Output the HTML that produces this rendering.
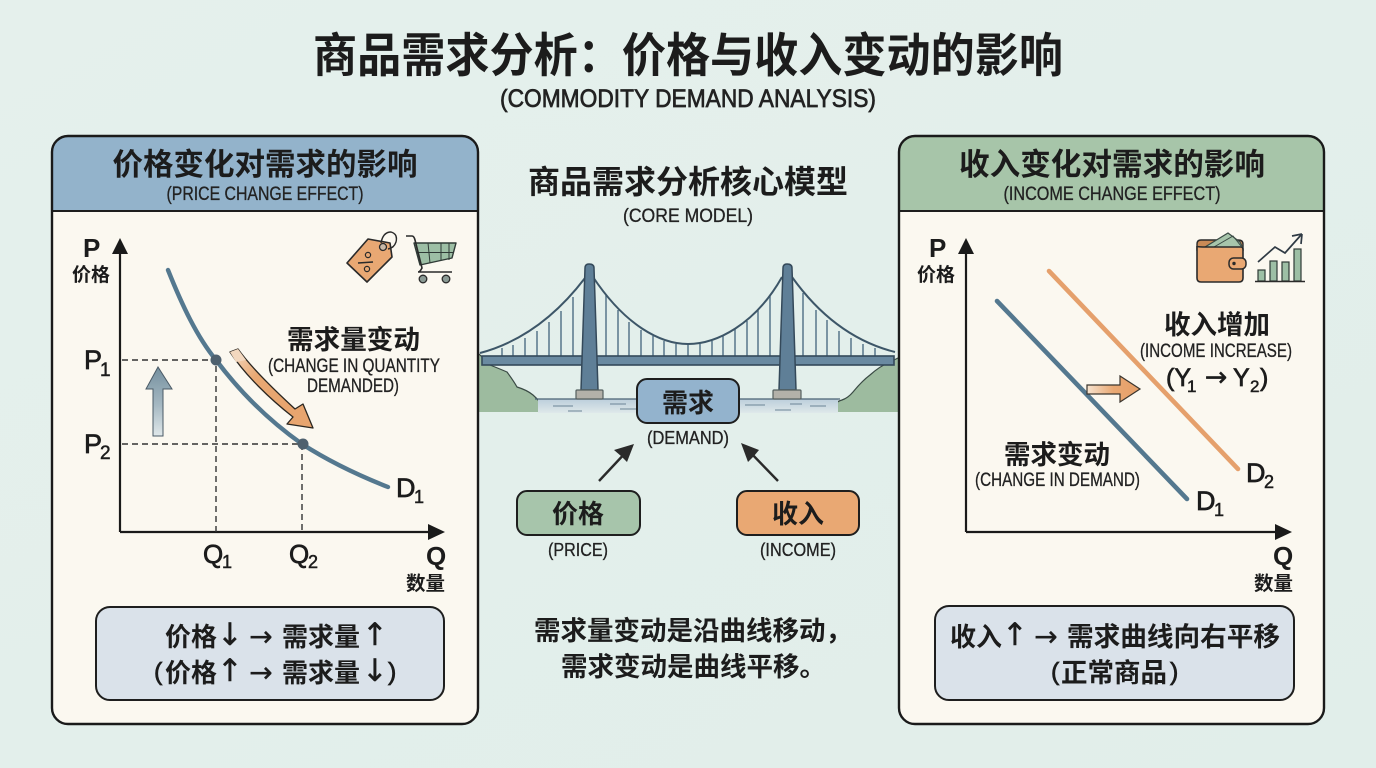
<!DOCTYPE html>
<html lang="zh-CN"><head><meta charset="utf-8"><title>商品需求分析</title>
<style>
html,body{margin:0;padding:0;width:1376px;height:768px;overflow:hidden;background:#e3efeb}
svg{display:block}
text{font-family:"Liberation Sans","Noto Sans CJK SC",sans-serif;fill:#1c1c1c}
.c{font-family:"Liberation Sans","Noto Sans CJK SC",sans-serif;font-weight:700}
.e{font-family:"Liberation Sans","Noto Sans CJK SC",sans-serif;font-weight:400;fill:#222;stroke:#222;stroke-width:.3}
.b{font-family:"Liberation Sans",sans-serif;font-weight:700}
.l{font-family:"Liberation Sans",sans-serif;font-weight:400;stroke:#1c1c1c;stroke-width:.7}
.a{font-family:"DejaVu Sans",sans-serif;font-weight:400;text-anchor:middle;stroke:#1c1c1c;stroke-width:.4}
.m{text-anchor:middle}
</style></head><body>
<svg width="1376" height="768" viewBox="0 0 1376 768" xmlns="http://www.w3.org/2000/svg">
<defs>
<linearGradient id="bg" x1="0" y1="0" x2="1" y2="1"><stop offset="0" stop-color="#e5f0ec"/><stop offset="1" stop-color="#e1eeea"/></linearGradient>
<linearGradient id="oa" gradientUnits="userSpaceOnUse" x1="232" y1="352" x2="285" y2="405"><stop offset="0" stop-color="#f3d8bf"/><stop offset=".45" stop-color="#e9a873"/><stop offset="1" stop-color="#e8a56f"/></linearGradient>
<linearGradient id="ua" x1="0" y1="0" x2="0" y2="1"><stop offset="0" stop-color="#75909f"/><stop offset=".55" stop-color="#a5b8c2"/><stop offset="1" stop-color="#e0e8ea"/></linearGradient>
<linearGradient id="ra" x1="0" y1="0" x2="1" y2="0"><stop offset="0" stop-color="#f6e3cf"/><stop offset=".5" stop-color="#e9a873"/><stop offset="1" stop-color="#e69f68"/></linearGradient>
<linearGradient id="wa" x1="0" y1="0" x2="0" y2="1"><stop offset="0" stop-color="#bccedb"/><stop offset="1" stop-color="#dfe9ea"/></linearGradient>
</defs>
<rect width="1376" height="768" fill="url(#bg)"/>

<!-- title -->
<text class="c m" x="688" y="72" font-size="47" textLength="750" lengthAdjust="spacingAndGlyphs">商品需求分析：价格与收入变动的影响</text>
<text class="e m" x="688" y="107" font-size="25" textLength="376" lengthAdjust="spacingAndGlyphs" style="stroke-width:.7">(COMMODITY DEMAND ANALYSIS)</text>

<!-- center heading -->
<text class="c m" x="688" y="193" font-size="32" textLength="320" lengthAdjust="spacingAndGlyphs">商品需求分析核心模型</text>
<text class="e m" x="688" y="222" font-size="19" textLength="130" lengthAdjust="spacingAndGlyphs">(CORE MODEL)</text>

<!-- bridge -->
<path d="M478 353 L490 365 Q500 369 507 372 Q513 380 517 387 Q527 390 533 395 Q541 402 547 412 L478 412Z" fill="#9dbb9f"/>
<path d="M478 353 L490 365 Q500 369 507 372 Q513 380 517 387 Q527 390 533 395 Q541 402 547 412" fill="none" stroke="#3a4a44" stroke-width="1.2"/>
<path d="M830 412 Q834 402 842 400 Q848 398 853 392 Q862 381 870 375 Q880 366 890 362 L900 357 L900 412Z" fill="#9dbb9f"/>
<path d="M830 412 Q834 402 842 400 Q848 398 853 392 Q862 381 870 375 Q880 366 890 362 L900 357" fill="none" stroke="#3a4a44" stroke-width="1.2"/>
<rect x="538" y="399" width="300" height="14" fill="url(#wa)"/>
<path d="M535 399H840" stroke="#4a6273" stroke-width="1.3"/>
<path d="M553 406h20M568 411h14M610 404h16M620 409h18M745 405h20M775 410h16M810 406h16M790 404h12" stroke="#6b8496" stroke-width="1" fill="none"/>
<g stroke="#4d6d84" stroke-width="1.4" fill="none">
<path d="M502 348V356M513 345V356M525 338V356M537 331V356M549 322V356M561 311V356M573 297V356"/>
<path d="M606 295V356M618 310V356M629 322V356M641 330V356M653 336V356M664 341V356M676 344V356M688 344V356M700 344V356M712 341V356M723 336V356M735 329V356M747 321V356M758 310V356M770 296V356"/>
<path d="M803 293V356M816 310V356M827 320V356M839 331V356M851 338V356M863 344V356M875 348V356"/>
</g>
<g stroke="#3d5668" stroke-width="2" fill="none">
<path d="M480 353 Q540 337 585 278"/>
<path d="M593 277 C625 325 660 344 688 344 C716 344 755 325 782 277"/>
<path d="M792 277 Q835 337 895 352"/>
</g>
<rect x="482" y="356" width="412" height="9" fill="#6a8aa1" stroke="#34495a" stroke-width="1.6"/>
<g fill="#5f7f97" stroke="#34495a" stroke-width="1.5">
<path d="M585 268 Q585 264 589 264 Q594 264 594 268 L598 390 H581Z"/>
<path d="M783 268 Q783 264 787 264 Q792 264 792 268 L796 390 H779Z"/>
</g>
<rect x="576" y="390" width="27" height="9" rx="1" fill="#b3b1a9" stroke="#55605f" stroke-width="1.2"/>
<rect x="773" y="390" width="28" height="9" rx="1" fill="#b3b1a9" stroke="#55605f" stroke-width="1.2"/>

<!-- center boxes -->
<rect x="637" y="379" width="102" height="44" rx="10" fill="#93b3cd" stroke="#1e1e1e" stroke-width="2"/>
<text class="c m" x="688" y="412" font-size="26">需求</text>
<text class="e m" x="688" y="444" font-size="18" textLength="82" lengthAdjust="spacingAndGlyphs">(DEMAND)</text>
<path d="M599 481 L628 450" stroke="#2a2a2a" stroke-width="2.4"/>
<path d="M634 444 L627 462 L621 456 L614 450Z" fill="#2a2a2a"/>
<path d="M778 481 L748 450" stroke="#2a2a2a" stroke-width="2.4"/>
<path d="M741 443 L759 450 L754 456 L748 462Z" fill="#2a2a2a"/>
<rect x="517" y="491" width="123" height="44" rx="10" fill="#a7c5ab" stroke="#1e1e1e" stroke-width="2"/>
<text class="c m" x="578" y="523" font-size="26">价格</text>
<text class="e m" x="578" y="556" font-size="18" textLength="60" lengthAdjust="spacingAndGlyphs">(PRICE)</text>
<rect x="737" y="491" width="122" height="44" rx="10" fill="#e9a873" stroke="#1e1e1e" stroke-width="2"/>
<text class="c m" x="798" y="523" font-size="26">收入</text>
<text class="e m" x="798" y="556" font-size="18" textLength="76" lengthAdjust="spacingAndGlyphs">(INCOME)</text>
<text class="c" x="534" y="640" font-size="26.5">需求量变动是沿曲线移动，</text>
<text class="c" x="561" y="676" font-size="26.5">需求变动是曲线平移。</text>

<!-- LEFT PANEL -->
<rect x="52" y="136" width="426" height="588" rx="16" fill="#fbf8f0"/>
<path d="M52 211V152a16 16 0 0 1 16-16H462a16 16 0 0 1 16 16V211Z" fill="#93b3cb"/>
<path d="M52 211H478" stroke="#1e1e1e" stroke-width="2"/>
<rect x="52" y="136" width="426" height="588" rx="16" fill="none" stroke="#1a1a1a" stroke-width="2.4"/>
<text class="c m" x="265" y="175" font-size="30.5" textLength="305" lengthAdjust="spacingAndGlyphs">价格变化对需求的影响</text>
<text class="e m" x="265" y="200" font-size="19" textLength="197" lengthAdjust="spacingAndGlyphs">(PRICE CHANGE EFFECT)</text>

<path d="M120 532V250" stroke="#1a1a1a" stroke-width="2.2" fill="none"/>
<path d="M120 238L128 254H112Z" fill="#1a1a1a"/>
<path d="M120 532H432" stroke="#1a1a1a" stroke-width="2.2" fill="none"/>
<path d="M445 532L428 524V540Z" fill="#1a1a1a"/>
<path d="M122 360H216V532M122 444H302V530" fill="none" stroke="#333" stroke-width="1.4" stroke-dasharray="6 4"/>
<path d="M168 270 C182 305 197 337 216 360 C240 392 268 420 302 444 C330 462 360 476 388 487" fill="none" stroke="#54788f" stroke-width="4.4" stroke-linecap="round"/>
<circle cx="216" cy="360" r="5.5" fill="#4e606e"/>
<circle cx="303" cy="444" r="5.5" fill="#4e606e"/>
<path d="M146 389H153V436H163V389H172L158 367Z" fill="url(#ua)" stroke="#4a5a66" stroke-width="1"/>
<path d="M230 352 L238 349 C250 366 270 386 295 409 L303 404 L313 428 L287 424 L293 417 C270 399 245 375 230 352Z" fill="url(#oa)" stroke="#2a2620" stroke-width="1.3" stroke-linejoin="round"/>
<path d="M230 352 L238 349 L246 360 L236 362Z" fill="#f3d8bf"/>

<text class="b" x="83" y="257" font-size="26">P</text>
<text class="c" x="72" y="281" font-size="19">价格</text>
<text class="l" x="84" y="369" font-size="27">P</text><text class="l" x="100" y="376" font-size="19" style="stroke-width:.5">1</text>
<text class="l" x="84" y="453" font-size="27">P</text><text class="l" x="100" y="459" font-size="19" style="stroke-width:.5">2</text>
<text class="l" x="203" y="563" font-size="26">Q</text><text class="l" x="222" y="568" font-size="18" style="stroke-width:.5">1</text>
<text class="l" x="289" y="563" font-size="26">Q</text><text class="l" x="308" y="568" font-size="18" style="stroke-width:.5">2</text>
<text class="b" x="426" y="565" font-size="26">Q</text>
<text class="c" x="406" y="590" font-size="19.5">数量</text>
<text class="l" x="396" y="497" font-size="27">D</text><text class="l" x="414" y="503" font-size="18" style="stroke-width:.5">1</text>
<text class="c" x="287" y="349" font-size="26.5" textLength="133" lengthAdjust="spacingAndGlyphs">需求量变动</text>
<text class="e" x="268" y="372" font-size="19" textLength="172" lengthAdjust="spacingAndGlyphs">(CHANGE IN QUANTITY</text>
<text class="e" x="307" y="392" font-size="19" textLength="92" lengthAdjust="spacingAndGlyphs">DEMANDED)</text>

<!-- tag -->
<path d="M347 263L368 239L390 243L392 257L367 282Z" fill="#e9a873" stroke="#2a2a2a" stroke-width="1.6" stroke-linejoin="round"/>
<circle cx="383" cy="247" r="3.5" fill="#c9b9a8" stroke="#2a2a2a" stroke-width="1.3"/>
<path d="M381 243 Q383 232 391 232 Q398 234 396 242 Q394 248 388 249" fill="none" stroke="#2a2a2a" stroke-width="1.4"/>
<circle cx="368" cy="255" r="2.6" fill="none" stroke="#2a2a2a" stroke-width="1.2"/>
<circle cx="367" cy="269" r="2.6" fill="none" stroke="#2a2a2a" stroke-width="1.2"/>
<path d="M358 263L373 262" stroke="#2a2a2a" stroke-width="1.4"/>
<!-- cart -->
<path d="M414 243H456L452 258L420 265Z" fill="#9dbfa5" stroke="#2f3a36" stroke-width="1.4" stroke-linejoin="round"/>
<path d="M416 252.5H454M428 243L430 263M441 243V261M449 243V260" fill="none" stroke="#2f3a36" stroke-width="1"/>
<path d="M406 236H412Q414 236 415 240L422 268Q420 272 418 272H452" fill="none" stroke="#2a2a2a" stroke-width="1.6"/>
<circle cx="423" cy="279" r="3.8" fill="#8a9a94" stroke="#2a2a2a" stroke-width="1.3"/>
<circle cx="446" cy="279" r="3.8" fill="#8a9a94" stroke="#2a2a2a" stroke-width="1.3"/>

<!-- left summary -->
<rect x="96" y="607" width="348" height="93" rx="14" fill="#dae2ea" stroke="#1e1e1e" stroke-width="2"/>
<text class="c" x="165" y="646" font-size="26">价格</text><text class="a" x="230" y="645" font-size="31">↓</text><text class="a" x="261" y="646" font-size="28">→</text><text class="c" x="282" y="646" font-size="26">需求量</text><text class="a" x="375" y="645" font-size="31">↑</text>
<text class="l" x="154" y="680" font-size="25">(</text><text class="c" x="165" y="682" font-size="26">价格</text><text class="a" x="230" y="681" font-size="31">↑</text><text class="a" x="261" y="682" font-size="28">→</text><text class="c" x="282" y="682" font-size="26">需求量</text><text class="a" x="375" y="681" font-size="31">↓</text><text class="l" x="388" y="680" font-size="25">)</text>

<!-- RIGHT PANEL -->
<rect x="899" y="136" width="425" height="588" rx="16" fill="#fbf8f0"/>
<path d="M899 211V152a16 16 0 0 1 16-16H1308a16 16 0 0 1 16 16V211Z" fill="#a7c5a9"/>
<path d="M899 211H1324" stroke="#1e1e1e" stroke-width="2"/>
<rect x="899" y="136" width="425" height="588" rx="16" fill="none" stroke="#1a1a1a" stroke-width="2.4"/>
<text class="c m" x="1112" y="175" font-size="30.5" textLength="306" lengthAdjust="spacingAndGlyphs">收入变化对需求的影响</text>
<text class="e m" x="1112" y="200" font-size="19" textLength="217" lengthAdjust="spacingAndGlyphs">(INCOME CHANGE EFFECT)</text>

<path d="M966 532V250" stroke="#1a1a1a" stroke-width="2.2" fill="none"/>
<path d="M966 238L974 254H958Z" fill="#1a1a1a"/>
<path d="M966 532H1280" stroke="#1a1a1a" stroke-width="2.2" fill="none"/>
<path d="M1292 532L1275 524V540Z" fill="#1a1a1a"/>
<path d="M997 301L1187 499" stroke="#54788f" stroke-width="4.6" stroke-linecap="round"/>
<path d="M1049 271L1238 469" stroke="#e5a06c" stroke-width="4.6" stroke-linecap="round"/>
<path d="M1087 385H1120V376L1140 389L1120 402V394H1087Z" fill="url(#ra)" stroke="#3a352e" stroke-width="1.2"/>

<text class="b" x="929" y="257" font-size="26">P</text>
<text class="c" x="917" y="281" font-size="19">价格</text>
<text class="c" x="1164" y="334" font-size="26.5" textLength="106" lengthAdjust="spacingAndGlyphs">收入增加</text>
<text class="e" x="1140" y="357" font-size="19" textLength="152" lengthAdjust="spacingAndGlyphs">(INCOME INCREASE)</text>
<text class="l" x="1166" y="386" font-size="25">(Y</text><text class="l" x="1187" y="392" font-size="17" style="stroke-width:.5">1</text><text class="a" x="1216" y="386" font-size="27">→</text><text class="l" x="1233" y="386" font-size="25">Y</text><text class="l" x="1250" y="392" font-size="17" style="stroke-width:.5">2</text><text class="l" x="1260" y="386" font-size="25">)</text>
<text class="c" x="1004" y="464" font-size="26.5" textLength="106" lengthAdjust="spacingAndGlyphs">需求变动</text>
<text class="e" x="975" y="486" font-size="19" textLength="165" lengthAdjust="spacingAndGlyphs">(CHANGE IN DEMAND)</text>
<text class="l" x="1246" y="482" font-size="27">D</text><text class="l" x="1264" y="488" font-size="18" style="stroke-width:.5">2</text>
<text class="l" x="1196" y="510" font-size="27">D</text><text class="l" x="1214" y="516" font-size="18" style="stroke-width:.5">1</text>
<text class="b" x="1273" y="565" font-size="26">Q</text>
<text class="c" x="1254" y="590" font-size="19.5">数量</text>

<!-- wallet -->
<path d="M1197 246V244Q1197 240 1201 240H1238Q1243 240 1243 244V250H1197Z" fill="#c98a56" stroke="#2a2a2a" stroke-width="1.4"/>
<path d="M1205 247L1228 233L1240 242L1243 248V250H1206Z" fill="#a7c5ab" stroke="#3a4a44" stroke-width="1.2"/>
<path d="M1214 247L1233 236L1241 246" fill="none" stroke="#3a4a44" stroke-width="1"/>
<path d="M1197 246Q1197 247 1203 247H1241Q1243 247 1243 250V278Q1243 282 1239 282H1201Q1197 282 1197 278Z" fill="#e9a873" stroke="#2a2a2a" stroke-width="1.6"/>
<rect x="1229" y="258" width="17" height="11" rx="4.5" fill="#e9a873" stroke="#2a2a2a" stroke-width="1.5"/>
<circle cx="1234" cy="263.5" r="1.7" fill="#2a2a2a"/>
<!-- chart -->
<g fill="#9dbfa5" stroke="#2f3a36" stroke-width="1.2">
<rect x="1258" y="270" width="7" height="11"/><rect x="1270" y="261" width="7" height="20"/><rect x="1282" y="262" width="7" height="19"/><rect x="1294" y="249" width="7" height="32"/>
</g>
<path d="M1255 281.5H1305" stroke="#2a2a2a" stroke-width="1.5"/>
<path d="M1258 262L1275 247L1285 253L1301 235" fill="none" stroke="#2f3a44" stroke-width="1.7"/>
<path d="M1302 234L1292 236M1302 234L1301 244" stroke="#2f3a44" stroke-width="1.7" fill="none"/>

<!-- right summary -->
<rect x="935" y="606" width="359" height="94" rx="14" fill="#dae2ea" stroke="#1e1e1e" stroke-width="2"/>
<text class="c" x="950" y="646" font-size="26">收入</text><text class="a" x="1015" y="645" font-size="31">↑</text><text class="a" x="1046" y="646" font-size="28">→</text><text class="c" x="1067" y="646" font-size="26.5" textLength="213" lengthAdjust="spacingAndGlyphs">需求曲线向右平移</text>
<text class="l" x="1051" y="680" font-size="25">(</text><text class="c" x="1061" y="682" font-size="26.5" textLength="106" lengthAdjust="spacingAndGlyphs">正常商品</text><text class="l" x="1170" y="680" font-size="25">)</text>
</svg>
</body></html>
